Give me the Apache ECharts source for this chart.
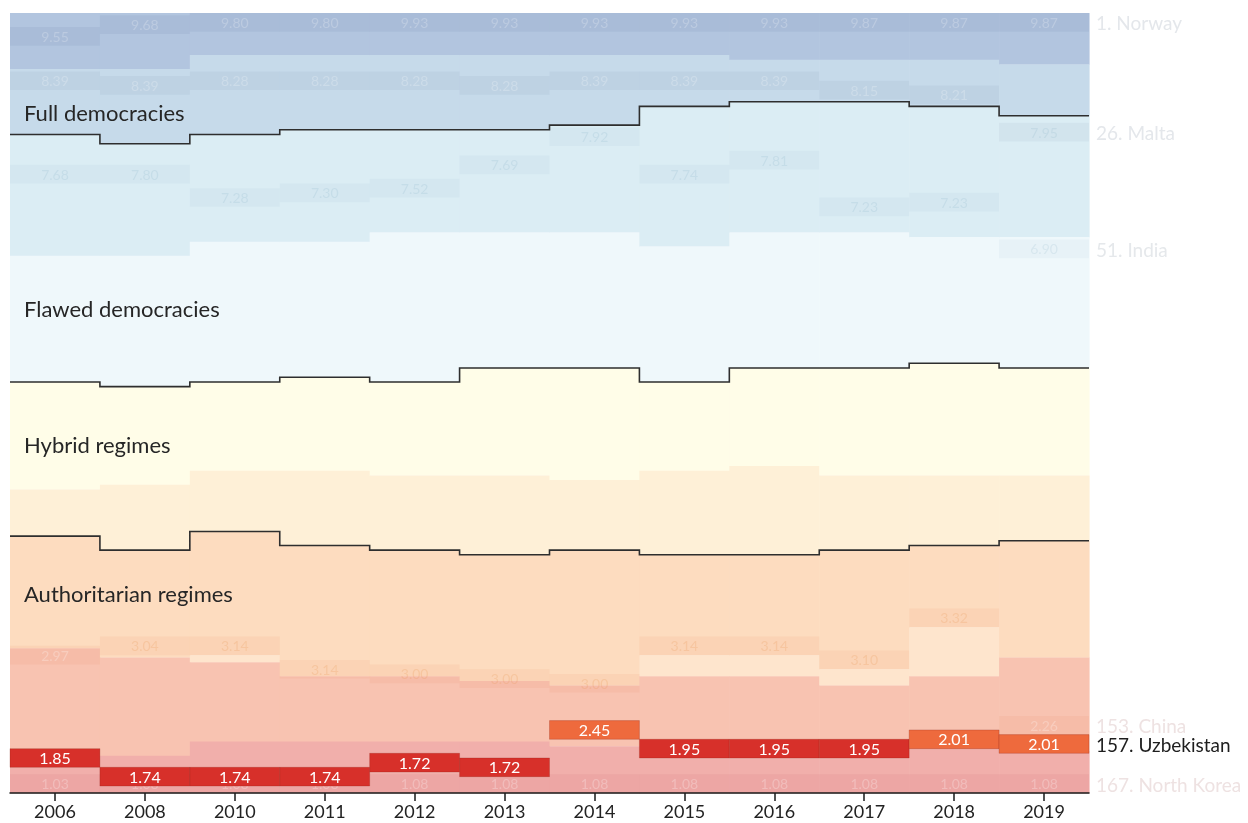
<!DOCTYPE html>
<html>
<head>
<meta charset="utf-8">
<script src="https://cdn.jsdelivr.net/npm/echarts@6/dist/echarts.min.js"></script>
<style>
  html, body { margin: 0; padding: 0; background: #ffffff; }
  #chart { width: 1248px; height: 823px; }
</style>
</head>
<body>
<div id="chart"></div>
<script>
// ---------------- DATA ----------------
const years = ['2006','2008','2010','2011','2012','2013','2014','2015','2016','2017','2018','2019'];
const totalCountries = 167;

// Number of countries at or above each score threshold (band boundaries, in rank units)
const n9      = [12, 12, 9, 9, 9, 9, 9, 9, 10, 10, 10, 11];                     // score >= 9
const nFull   = [26, 28, 26, 25, 25, 25, 24, 20, 19, 19, 20, 22];              // score >= 8 (full democracies)
const n7      = [52, 52, 49, 49, 47, 47, 47, 50, 47, 47, 48, 48];              // score >= 7
const nFlawed = [79, 80, 79, 78, 79, 76, 76, 79, 76, 76, 75, 76];              // score >= 6 (flawed democracies)
const n5      = [102, 101, 98, 98, 99, 99, 100, 98, 97, 99, 99, 99];           // score >= 5
const nHybrid = [112, 115, 111, 114, 115, 116, 115, 116, 116, 115, 114, 113];  // score >= 4 (hybrid regimes)
const n3light = [136, 138, 137.5, 142, 142, 143, 144, 137.5, 137.5, 140.5, 131.5, 138]; // lighter strip start
const n3      = [136, 138, 139, 142, 142, 143, 144, 142, 142, 144, 142, 138];  // score >= 3
const n2      = [159, 159, 156, 156, 156, 156, 157, 157, 157, 157, 157, 158];  // score >= 2

// Highlighted countries: positions (rank) and scores per year
const norwayPos   = [5.5, 3, 1, 1, 1, 1, 1, 1, 1, 1, 1, 1];
const norwayScore = ['9.55','9.68','9.80','9.80','9.93','9.93','9.93','9.93','9.93','9.87','9.87','9.87'];
const maltaPos    = [15, 16, 15, 15, 15, 16, 15, 15, 15, 17, 18, 26];
const maltaScore  = ['8.39','8.39','8.28','8.28','8.28','8.28','8.39','8.39','8.39','8.15','8.21','7.95'];
const indiaPos    = [35, 35, 40, 39, 38, 33, 27, 35, 32, 42, 41, 51];
const indiaScore  = ['7.68','7.80','7.28','7.30','7.52','7.69','7.92','7.74','7.81','7.23','7.23','6.90'];
const chinaPos    = [138, 136, 136, 141, 142, 143, 144, 136, 136, 139, 130, 153];
const chinaScore  = ['2.97','3.04','3.14','3.14','3.00','3.00','3.00','3.14','3.14','3.10','3.32','2.26'];
const nkoreaPos   = [167, 167, 167, 167, 167, 167, 167, 167, 167, 167, 167, 167];
const nkoreaScore = ['1.03','1.08','1.08','1.08','1.08','1.08','1.08','1.08','1.08','1.08','1.08','1.08'];
const uzbekPos    = [160, 164, 164, 164, 161, 162, 154, 158, 158, 158, 156, 157];
const uzbekScore  = ['1.85','1.74','1.74','1.74','1.72','1.72','2.45','1.95','1.95','1.95','2.01','2.01'];

const regimeNames = ['Full democracies', 'Flawed democracies', 'Hybrid regimes', 'Authoritarian regimes'];
const regimeLabelPos = [21.6, 63.6, 92.7, 124.6];

const rightNames = ['Norway', 'Malta', 'India', 'China', 'Uzbekistan', 'North Korea'];

// ---------------- STYLE ----------------
const FONT = 'Lato, "Noto Sans", sans-serif';
const bandColors = ['#b2c5df', '#c6daea', '#dbedf4', '#eff8fb', '#fffde8', '#fef0d7',
                    '#fddcbf', '#fee5cd', '#f8c3b1', '#f1afab'];

// ---------------- BUILD ----------------
const bandItems = [];
years.forEach((y, i) => {
  const edges = [0, n9[i], nFull[i], n7[i], nFlawed[i], n5[i], nHybrid[i], n3light[i], n3[i], n2[i], totalCountries];
  for (let k = 0; k < 10; k++) {
    if (edges[k + 1] > edges[k]) bandItems.push([i, edges[k], edges[k + 1], k]);
  }
});

const faint = [
  { pos: norwayPos, score: norwayScore, overlay: 'rgba(20,40,90,0.05)' },
  { pos: maltaPos,  score: maltaScore,  overlay: 'rgba(20,50,90,0.045)' },
  { pos: indiaPos,  score: indiaScore,  overlay: 'rgba(40,110,150,0.04)' },
  { pos: chinaPos,  score: chinaScore,  overlay: 'rgba(235,120,70,0.08)' },
  { pos: nkoreaPos, score: nkoreaScore, overlay: 'rgba(200,80,100,0.09)' }
];
const faintItems = [];
faint.forEach((c, ci) => {
  years.forEach((y, i) => faintItems.push([i, c.pos[i], parseFloat(c.score[i]), ci]));
});
const uzbekItems = years.map((y, i) => [i, uzbekPos[i], parseFloat(uzbekScore[i])]);

function boxRange(pos) {
  const c = pos - 0.5;
  let t = c - 2, b = c + 2;
  if (t < 0) { b -= t; t = 0; }
  if (b > totalCountries) { t -= (b - totalCountries); b = totalCountries; }
  return [t, b];
}

function textColorFor(score) {
  if (score >= 8) return 'rgba(255,255,255,0.22)';
  if (score >= 6) return 'rgba(60,120,150,0.09)';
  if (score >= 3) return 'rgba(230,150,80,0.22)';
  return 'rgba(255,255,255,0.25)';
}

function renderBand(params, api) {
  const i = api.value(0), s = api.value(1), e = api.value(2), k = api.value(3);
  const p0 = api.coord([i, s]);
  const p1 = api.coord([i, e]);
  const w = api.size([1, 0])[0];
  return {
    type: 'rect',
    shape: { x: p0[0] - w / 2, y: p0[1], width: w + 0.6, height: p1[1] - p0[1] + 0.3 },
    style: { fill: bandColors[k] }
  };
}

function renderFaint(params, api) {
  const i = api.value(0), pos = api.value(1), score = api.value(2), ci = api.value(3);
  const r = boxRange(pos);
  const p0 = api.coord([i, r[0]]);
  const p1 = api.coord([i, r[1]]);
  const w = api.size([1, 0])[0];
  const c = faint[ci];
  return {
    type: 'group',
    children: [
      { type: 'rect', shape: { x: p0[0] - w / 2, y: p0[1], width: w, height: p1[1] - p0[1] },
        style: { fill: c.overlay } },
      { type: 'text', style: { x: p0[0], y: (p0[1] + p1[1]) / 2 + 1, text: c.score[i],
        fill: textColorFor(score), font: '14px ' + FONT, textAlign: 'center', textVerticalAlign: 'middle' } }
    ]
  };
}

function renderUzbek(params, api) {
  const i = api.value(0), pos = api.value(1), score = api.value(2);
  const r = boxRange(pos);
  const p0 = api.coord([i, r[0]]);
  const p1 = api.coord([i, r[1]]);
  const w = api.size([1, 0])[0];
  return {
    type: 'group',
    children: [
      { type: 'rect', shape: { x: p0[0] - w / 2, y: p0[1], width: w, height: p1[1] - p0[1] },
        style: { fill: score >= 2 ? '#ee6a3d' : '#d7302a', stroke: 'rgba(140,30,20,0.25)', lineWidth: 1 } },
      { type: 'text', style: { x: p0[0], y: (p0[1] + p1[1]) / 2 + 1, text: uzbekScore[i],
        fill: '#ffffff', font: '16px ' + FONT, textAlign: 'center', textVerticalAlign: 'middle' } }
    ]
  };
}

const lineSets = [nFull, nFlawed, nHybrid];
function renderLine(params, api) {
  const arr = lineSets[params.dataIndex];
  const w = api.size([1, 0])[0];
  const pts = [];
  arr.forEach((v, i) => {
    const p = api.coord([i, v]);
    pts.push([p[0] - w / 2, p[1]]);
    pts.push([p[0] + w / 2, p[1]]);
  });
  return {
    type: 'polyline',
    shape: { points: pts },
    style: { stroke: '#2e2e2e', lineWidth: 1.6, fill: null }
  };
}

function renderRegimeLabel(params, api) {
  const k = params.dataIndex;
  const p = api.coord([0, regimeLabelPos[k]]);
  const w = api.size([1, 0])[0];
  return {
    type: 'text',
    style: { x: p[0] - w / 2 + 14, y: p[1], text: regimeNames[k], fill: '#262626',
      font: '22px ' + FONT, textAlign: 'left', textVerticalAlign: 'middle' }
  };
}

const rightPos = [norwayPos, maltaPos, indiaPos, chinaPos, uzbekPos, nkoreaPos].map(a => a[a.length - 1]);
const rightColors = ['#e4e7eb', '#e4e7eb', '#e5e8eb', '#eee2e2', '#1e1e1e', '#eee2e2'];
function renderRight(params, api) {
  const k = params.dataIndex;
  const last = years.length - 1;
  const r = boxRange(rightPos[k]);
  const p = api.coord([last, (r[0] + r[1]) / 2]);
  const w = api.size([1, 0])[0];
  return {
    type: 'text',
    style: { x: p[0] + w / 2 + 7, y: p[1] + 2, text: rightPos[k] + '. ' + rightNames[k],
      fill: rightColors[k], font: '19px ' + FONT, textAlign: 'left', textVerticalAlign: 'middle' }
  };
}

const chart = echarts.init(document.getElementById('chart'), null, { renderer: 'canvas' });
chart.setOption({
  animation: false,
  backgroundColor: '#ffffff',
  grid: { left: 10, right: 159, top: 13, bottom: 30 },
  xAxis: {
    type: 'category', data: years, boundaryGap: true, z: 10, position: 'bottom',
    axisLine: { show: true, onZero: false, lineStyle: { color: '#1a1a1a', width: 1.5 } },
    axisTick: { show: true, inside: false, alignWithLabel: true, length: 8, lineStyle: { color: '#1a1a1a', width: 1.5 } },
    axisLabel: { color: '#222', fontSize: 18, fontFamily: 'Lato', margin: 10 }
  },
  yAxis: { type: 'value', inverse: true, min: 0, max: totalCountries, show: false },
  series: [
    { type: 'custom', name: 'bands', renderItem: renderBand, data: bandItems, encode: { x: 0, y: [1, 2] }, silent: true, z: 1 },
    { type: 'custom', name: 'countries', renderItem: renderFaint, data: faintItems, encode: { x: 0, y: 1 }, silent: true, z: 2 },
    { type: 'custom', name: 'regimes', renderItem: renderLine, data: lineSets.map((a, j) => [0, a[0], j]), encode: { x: 0, y: 1 }, silent: true, z: 3 },
    { type: 'custom', name: 'Uzbekistan', renderItem: renderUzbek, data: uzbekItems, encode: { x: 0, y: 1 }, silent: true, z: 4 },
    { type: 'custom', name: 'regimeLabels', renderItem: renderRegimeLabel, data: regimeNames.map((n, k) => [0, regimeLabelPos[k]]), encode: { x: 0, y: 1 }, silent: true, z: 5 },
    { type: 'custom', name: 'rightLabels', renderItem: renderRight, data: rightNames.map((n, k) => [years.length - 1, rightPos[k]]), encode: { x: 0, y: 1 }, silent: true, z: 5, clip: false }
  ]
});
</script>
</body>
</html>
